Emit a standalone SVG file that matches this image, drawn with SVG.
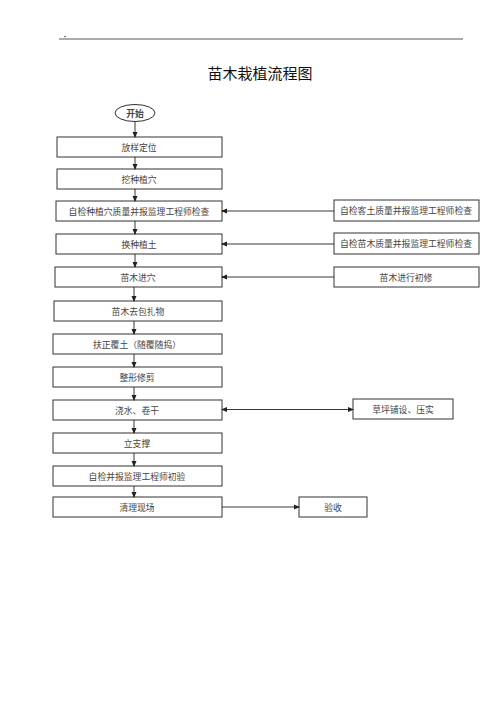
<svg xmlns="http://www.w3.org/2000/svg" width="500" height="708" viewBox="0 0 500 708">
<defs>
<marker id="ah" markerWidth="6" markerHeight="6" refX="5" refY="3" orient="auto" markerUnits="userSpaceOnUse">
<path d="M0,0.5 L6,3 L0,5.5 Z" fill="#222"/>
</marker>
<marker id="ahs" markerWidth="6" markerHeight="6" refX="1" refY="3" orient="auto" markerUnits="userSpaceOnUse">
<path d="M6,0.5 L0,3 L6,5.5 Z" fill="#222"/>
</marker>
<style>
.box{fill:#fff;stroke:#333;stroke-width:1}
.t{font-family:"Noto Sans CJK SC","Noto Sans CJK JP",sans-serif;font-size:8.8px;fill:#444;text-anchor:middle;dominant-baseline:central}
.c{stroke:#222;stroke-width:0.9;fill:none}
</style>
</defs>
<rect width="500" height="708" fill="#fff"/>
<line x1="59" y1="39" x2="463" y2="39" stroke="#444" stroke-width="0.9"/>
<circle cx="65" cy="36.5" r="0.8" fill="#444"/>
<text x="260" y="72" font-family="'Noto Sans CJK SC',sans-serif" font-size="15" fill="#111" text-anchor="middle" dominant-baseline="central">苗木栽植流程图</text>

<g id="start"><ellipse cx="135" cy="113" rx="20" ry="8.5" class="box"/><text x="135" y="113" class="t" font-weight="bold" fill="#111">开始</text></g>
<g id="n1"><rect x="57" y="137" width="165" height="20" class="box"/><text x="139" y="147" class="t">放样定位</text></g>
<g id="n2"><rect x="57" y="169" width="165" height="20" class="box"/><text x="139" y="179" class="t">挖种植穴</text></g>
<g id="n3"><rect x="56" y="201" width="166" height="20" class="box"/><text x="139" y="211" class="t">自检种植穴质量并报监理工程师检查</text></g>
<g id="r1"><rect x="334" y="200" width="145" height="21" class="box"/><text x="406" y="210.5" class="t">自检客土质量并报监理工程师检查</text></g>
<g id="n4"><rect x="56" y="234" width="166" height="20" class="box"/><text x="139" y="244" class="t">换种植土</text></g>
<g id="r2"><rect x="334" y="233" width="145" height="21" class="box"/><text x="406" y="243.5" class="t">自检苗木质量并报监理工程师检查</text></g>
<g id="n5"><rect x="55" y="267" width="167" height="20" class="box"/><text x="138" y="277" class="t">苗木进穴</text></g>
<g id="r3"><rect x="334" y="267" width="145" height="20" class="box"/><text x="406" y="277" class="t">苗木进行初修</text></g>
<g id="n6"><rect x="54" y="301" width="168" height="20" class="box"/><text x="138" y="311" class="t">苗木去包扎物</text></g>
<g id="n7"><rect x="53" y="334" width="169" height="20" class="box"/><text x="137" y="344" class="t">扶正覆土（随覆随捣）</text></g>
<g id="n8"><rect x="53" y="367" width="169" height="20" class="box"/><text x="137" y="377" class="t">整形修剪</text></g>
<g id="n9"><rect x="53" y="400" width="169" height="20" class="box"/><text x="137" y="410" class="t">浇水、卷干</text></g>
<g id="r4"><rect x="353" y="399" width="100" height="20" class="box"/><text x="403" y="409" class="t">草坪铺设、压实</text></g>
<g id="n10"><rect x="53" y="433" width="169" height="20" class="box"/><text x="137" y="443" class="t">立支撑</text></g>
<g id="n11"><rect x="53" y="466" width="169" height="20" class="box"/><text x="137" y="476" class="t">自检并报监理工程师初验</text></g>
<g id="n12"><rect x="53" y="497" width="169" height="20" class="box"/><text x="137" y="507" class="t">清理现场</text></g>
<g id="r5"><rect x="299" y="497" width="68" height="20" class="box"/><text x="333" y="507" class="t">验收</text></g>

<g id="connectors" class="c" marker-end="url(#ah)">
<line x1="135" y1="121.5" x2="135" y2="137"/>
<line x1="135" y1="157" x2="135" y2="169"/>
<line x1="135" y1="189" x2="135" y2="201"/>
<line x1="135" y1="221" x2="135" y2="234"/>
<line x1="135" y1="254" x2="135" y2="267"/>
<line x1="134" y1="287" x2="134" y2="301"/>
<line x1="134" y1="321" x2="134" y2="334"/>
<line x1="134" y1="354" x2="134" y2="367"/>
<line x1="134" y1="387" x2="134" y2="400"/>
<line x1="134" y1="420" x2="134" y2="433"/>
<line x1="134" y1="453" x2="134" y2="466"/>
<line x1="134" y1="486" x2="134" y2="497"/>
<line x1="334" y1="211" x2="222" y2="211"/>
<line x1="334" y1="244" x2="222" y2="244"/>
<line x1="334" y1="277" x2="222" y2="277"/>
<line x1="222" y1="409.5" x2="353" y2="409.5" marker-start="url(#ahs)"/>
<line x1="222" y1="507" x2="299" y2="507"/>
</g>
</svg>
